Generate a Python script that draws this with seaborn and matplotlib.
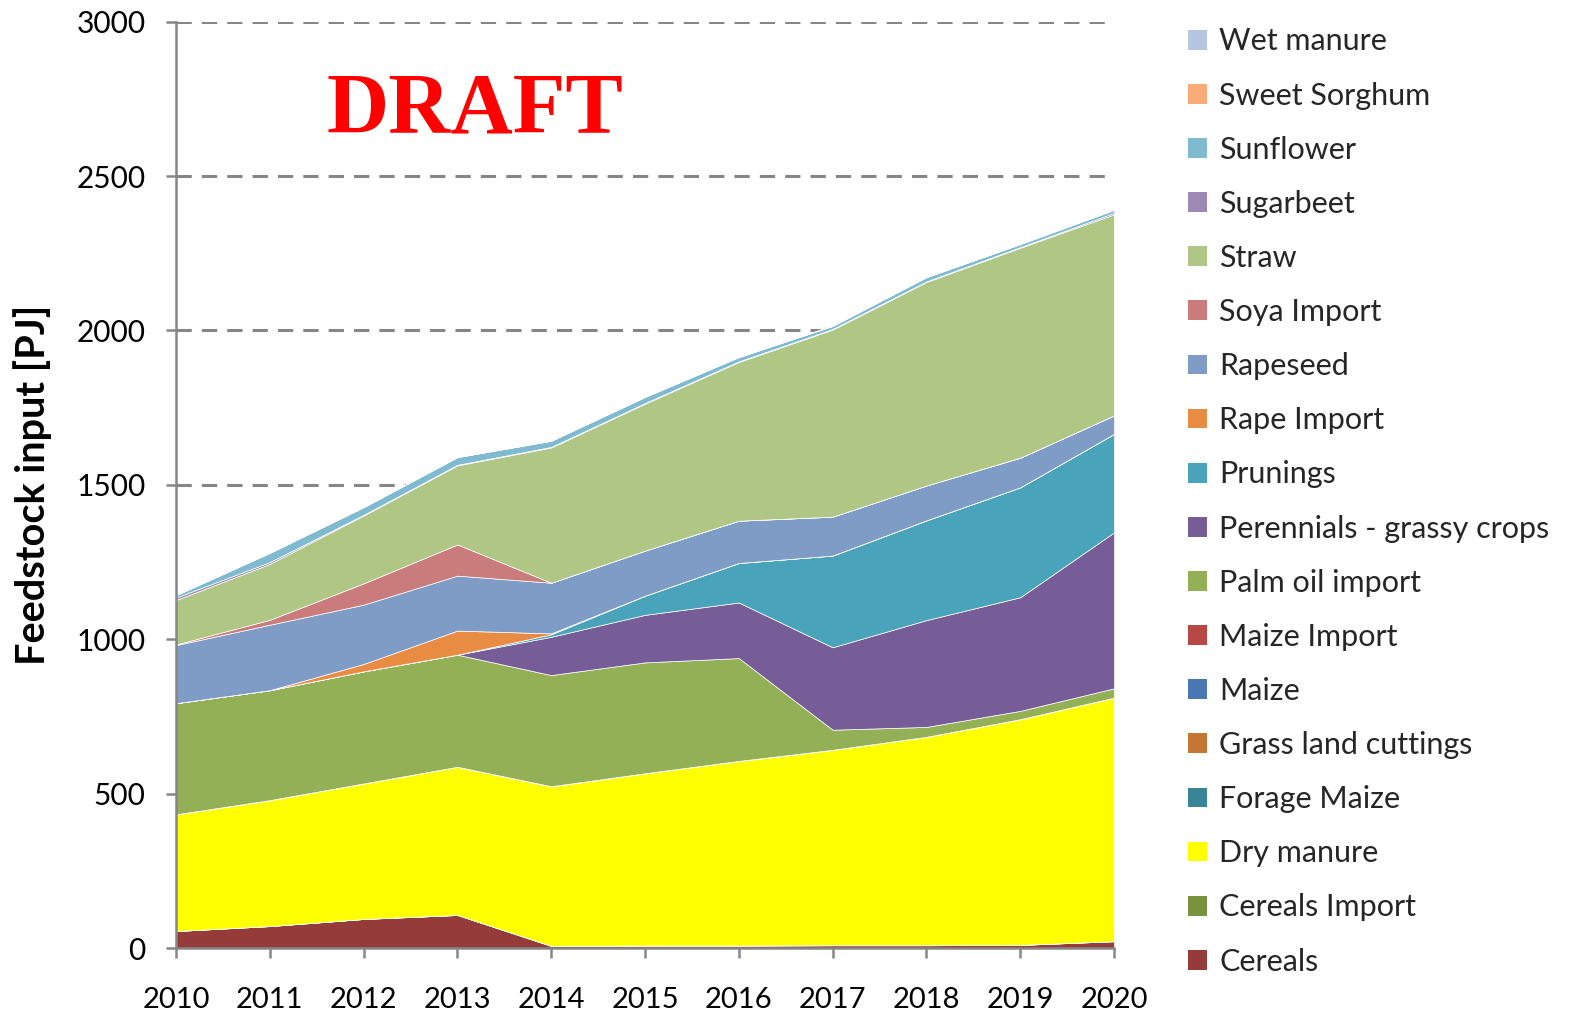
import numpy as np
import pandas as pd
import matplotlib
matplotlib.use("Agg")
import matplotlib.pyplot as plt
from matplotlib.patches import Patch
import seaborn as sns

# years and feedstock values [PJ]
years = [2010, 2011, 2012, 2013, 2014, 2015, 2016, 2017, 2018, 2019, 2020]

wet_manure = [3, 2, 1, 1, 1, 1, 1, 1, 1, 1, 2]
sweet_sorghum = [0, 0, 0, 0, 0, 0, 0, 0, 0, 0, 0]
sunflower = [8, 30, 25, 25, 20, 20, 14, 10, 14, 10, 10]
sugarbeet = [8, 6, 2, 2, 2, 2, 2, 2, 2, 2, 5]
straw = [144, 181, 220, 256, 438, 476, 514, 606, 659, 680, 651]
soya_import = [2, 16, 69, 101, 0, 0, 0, 0, 0, 0, 0]
rapeseed = [188, 212, 192, 178, 164, 146, 137, 126, 113, 96, 60]
rape_import = [0, 0, 24, 78, 3, 0, 0, 0, 0, 0, 0]
prunings = [0, 0, 0, 0, 8, 62, 128, 297, 323, 356, 319]
perennials = [0, 0, 0, 0, 124, 154, 180, 267, 346, 368, 505]
palm_oil_import = [360, 356, 363, 363, 360, 359, 333, 65, 32, 27, 30]
maize_import = [0, 0, 0, 0, 0, 0, 0, 0, 0, 0, 0]
maize = [0, 0, 0, 0, 0, 0, 0, 0, 0, 0, 0]
grass_land_cuttings = [0, 0, 0, 0, 0, 0, 0, 0, 0, 0, 0]
forage_maize = [0, 0, 0, 0, 0, 0, 0, 0, 0, 0, 0]
dry_manure = [378, 408, 439, 480, 517, 558, 598, 633, 675, 731, 789]
cereals_import = [0, 0, 0, 0, 0, 0, 0, 0, 0, 0, 0]
cereals = [55, 71, 94, 107, 7, 8, 8, 9, 9, 10, 22]

# legend order = top of stack first
names = ['Wet manure', 'Sweet Sorghum', 'Sunflower', 'Sugarbeet', 'Straw',
         'Soya Import', 'Rapeseed', 'Rape Import', 'Prunings',
         'Perennials - grassy crops', 'Palm oil import', 'Maize Import',
         'Maize', 'Grass land cuttings', 'Forage Maize', 'Dry manure',
         'Cereals Import', 'Cereals']
series = [wet_manure, sweet_sorghum, sunflower, sugarbeet, straw,
          soya_import, rapeseed, rape_import, prunings, perennials,
          palm_oil_import, maize_import, maize, grass_land_cuttings,
          forage_maize, dry_manure, cereals_import, cereals]
colors = ['#B7C6E0', '#F9AB78', '#7FBAD0', '#9C8AB5', '#AFC684',
          '#C97C7B', '#7F9CC7', '#E98C43', '#49A4BB', '#775D98',
          '#93B056', '#B84845', '#4877B2', '#C47734', '#378596',
          '#FFFF00', '#78923E', '#953B3A']

df = pd.DataFrame({
    'year': np.tile(years, len(names)),
    'source': np.repeat(names, len(years)),
    'value': np.concatenate(series),
})

sns.set_theme(style='white')
plt.rcParams['font.family'] = ['Lato', 'DejaVu Sans']

fig = plt.figure(figsize=(15.77, 10.15), dpi=100)
ax = fig.add_axes([0.1116, 0.0660, 0.5948, 0.9126])

# stacked area: weighted discrete histogram drawn as polygons
sns.histplot(data=df, x='year', weights='value', hue='source',
             hue_order=names, palette=dict(zip(names, colors)),
             multiple='stack', element='poly', discrete=True,
             alpha=1, edgecolor='white', linewidth=0.5, legend=False, ax=ax)

grey = '#868686'
ax.set_xlim(2010, 2020)
ax.set_ylim(0, 3000)
ax.set_xticks(years)
ax.set_xticklabels([str(y) for y in years])
ax.set_yticks(range(0, 3001, 500))
ax.set_axisbelow(True)
ax.yaxis.grid(True, color=grey, linestyle=(0, (5, 3.3)), linewidth=2.2)
ax.xaxis.grid(False)
for s in ['top', 'right']:
    ax.spines[s].set_visible(False)
for s in ['left', 'bottom']:
    ax.spines[s].set_color(grey)
    ax.spines[s].set_linewidth(1.8)
ax.tick_params(axis='y', left=True, length=7, width=1.8, color=grey,
               pad=15, labelsize=21.5, labelcolor='black')
ax.tick_params(axis='x', bottom=True, length=7, width=1.8, color=grey,
               pad=21, labelsize=21, labelcolor='black')

ax.set_xlabel('')
ax.set_ylabel('Feedstock input [PJ]', fontsize=28.5, fontweight='bold',
              color='black')
ax.yaxis.set_label_coords(-0.132, 0.5)

ax.text(0.319, 0.902, 'DRAFT', transform=ax.transAxes, ha='center',
        va='center', color='red', fontsize=62, fontweight='bold',
        family=['Liberation Serif', 'DejaVu Serif'])

handles = [Patch(facecolor=c, edgecolor='none', label=n)
           for n, c in zip(names, colors)]
fig.legend(handles=handles, loc='upper left',
           bbox_to_anchor=(0.7438, 0.988), frameon=False, borderpad=0,
           fontsize=22, handlelength=0.62, handleheight=0.62,
           handletextpad=0.4, labelspacing=0.855)

fig.savefig('out.png', dpi=100)
